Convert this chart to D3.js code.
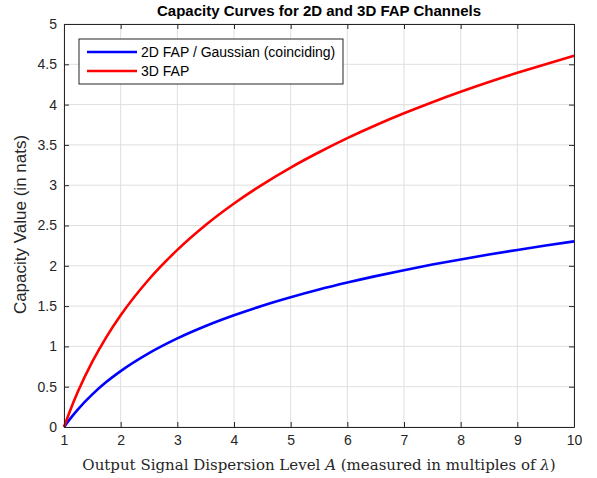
<!DOCTYPE html>
<html>
<head>
<meta charset="utf-8">
<script src="https://cdn.jsdelivr.net/npm/d3@7"></script>
<style>
  body { margin: 0; background: #fff; }
  svg { display: block; }
</style>
</head>
<body>
<svg id="chart" width="597" height="478"></svg>
<script>
// valores
var nivelA = [1, 1.1, 1.25, 1.5, 1.75, 2, 2.5, 3, 3.5, 4, 4.5, 5, 5.5, 6, 6.5, 7, 7.5, 8, 8.5, 9, 9.5, 10];
var cap2D = [0, 0.095, 0.223, 0.405, 0.56, 0.693, 0.916, 1.099, 1.253, 1.386, 1.504, 1.609, 1.705, 1.792, 1.872, 1.946, 2.015, 2.079, 2.14, 2.197, 2.251, 2.303];
var cap3D = [0, 0.19, 0.446, 0.811, 1.119, 1.386, 1.833, 2.197, 2.506, 2.773, 3.008, 3.219, 3.409, 3.584, 3.744, 3.892, 4.03, 4.159, 4.28, 4.394, 4.502, 4.605];
var ticksX = [1, 2, 3, 4, 5, 6, 7, 8, 9, 10];
var ticksY = [0, 0.5, 1, 1.5, 2, 2.5, 3, 3.5, 4, 4.5, 5];
var series = [
  {nome: "2D FAP / Gaussian (coinciding)", valores: cap2D, cor: "#0000ff"},
  {nome: "3D FAP", valores: cap3D, cor: "#ff0000"}
];

var svg = d3.select("#chart"),
    margin = {top: 24, right: 23, bottom: 51, left: 64},
    width = +svg.attr("width") - margin.left - margin.right,
    height = +svg.attr("height") - margin.top - margin.bottom,
    g = svg.append("g").attr("transform", "translate(" + margin.left + "," + margin.top + ")");

var x = d3.scaleLinear().domain([1, 10]).range([0, width]);
var y = d3.scaleLinear().domain([0, 5]).range([height, 0]);

// grade
g.append("g").selectAll("line").data(ticksX).enter().append("line")
  .attr("x1", function(d) { return x(d); }).attr("x2", function(d) { return x(d); })
  .attr("y1", 0).attr("y2", height)
  .attr("stroke", "#dfdfdf").attr("stroke-width", 1);
g.append("g").selectAll("line").data(ticksY).enter().append("line")
  .attr("y1", function(d) { return y(d); }).attr("y2", function(d) { return y(d); })
  .attr("x1", 0).attr("x2", width)
  .attr("stroke", "#dfdfdf").attr("stroke-width", 1);

// curvas
var linha = d3.line()
  .x(function(d) { return x(d[0]); })
  .y(function(d) { return y(d[1]); })
  .curve(d3.curveMonotoneX);

series.forEach(function(s) {
  g.append("path")
    .datum(nivelA.map(function(a, i) { return [a, s.valores[i]]; }))
    .attr("fill", "none")
    .attr("stroke", s.cor)
    .attr("stroke-width", 2.6)
    .attr("d", linha);
});

// eixos (caixa com ticks para dentro)
var fonteTick = "Liberation Sans, Arial, sans-serif";
function estilo(sel) {
  sel.select(".domain").attr("stroke", "#262626");
  sel.selectAll(".tick line").attr("stroke", "#262626");
  sel.selectAll("text").attr("font-family", fonteTick).attr("font-size", 14).attr("fill", "#262626");
}
g.append("g").attr("transform", "translate(0," + height + ")")
  .call(d3.axisBottom(x).tickValues(ticksX).tickSize(-5).tickPadding(8).tickSizeOuter(0))
  .call(estilo);
g.append("g")
  .call(d3.axisLeft(y).tickValues(ticksY).tickSize(-5).tickPadding(7).tickSizeOuter(0).tickFormat(d3.format("")))
  .call(estilo);
g.append("g")
  .call(d3.axisTop(x).tickValues(ticksX).tickSize(-5).tickFormat("").tickSizeOuter(0))
  .call(estilo);
g.append("g").attr("transform", "translate(" + width + ",0)")
  .call(d3.axisRight(y).tickValues(ticksY).tickSize(-5).tickFormat("").tickSizeOuter(0))
  .call(estilo);

// titulo e rotulos
svg.append("text")
  .attr("x", margin.left + width / 2).attr("y", 16)
  .attr("text-anchor", "middle")
  .attr("font-family", "Liberation Sans, Arial, sans-serif")
  .attr("font-weight", "bold").attr("font-size", 15)
  .attr("fill", "#000")
  .text("Capacity Curves for 2D and 3D FAP Channels");

var rotX = svg.append("text")
  .attr("x", margin.left + width / 2).attr("y", 470)
  .attr("text-anchor", "middle")
  .attr("font-family", "DejaVu Serif, Liberation Serif, serif")
  .attr("font-size", 15)
  .attr("fill", "#262626");
rotX.append("tspan").text("Output Signal Dispersion Level ");
rotX.append("tspan").attr("font-style", "italic").text("A");
rotX.append("tspan").text(" (measured in multiples of ");
rotX.append("tspan").attr("font-style", "italic").text("λ");
rotX.append("tspan").text(")");

svg.append("text")
  .attr("transform", "translate(26," + (margin.top + height / 2 - 1) + ") rotate(-90)")
  .attr("text-anchor", "middle")
  .attr("font-family", "Liberation Sans, Arial, sans-serif")
  .attr("font-size", 17)
  .attr("fill", "#262626")
  .text("Capacity Value (in nats)");

// legenda
var leg = svg.append("g").attr("transform", "translate(79,39)");
leg.append("rect")
  .attr("width", 264).attr("height", 45)
  .attr("fill", "#fff").attr("stroke", "#262626").attr("stroke-width", 1);
var item = leg.selectAll("g.item").data(series).enter().append("g")
  .attr("class", "item")
  .attr("transform", function(d, i) { return "translate(0," + (13 + i * 19) + ")"; });
item.append("line")
  .attr("x1", 8).attr("x2", 58)
  .attr("stroke", function(d) { return d.cor; })
  .attr("stroke-width", 2.6);
item.append("text")
  .attr("x", 62).attr("dy", "0.35em")
  .attr("font-family", "Liberation Sans, Arial, sans-serif")
  .attr("font-size", 14)
  .attr("fill", "#000")
  .text(function(d) { return d.nome; });
</script>
</body>
</html>
